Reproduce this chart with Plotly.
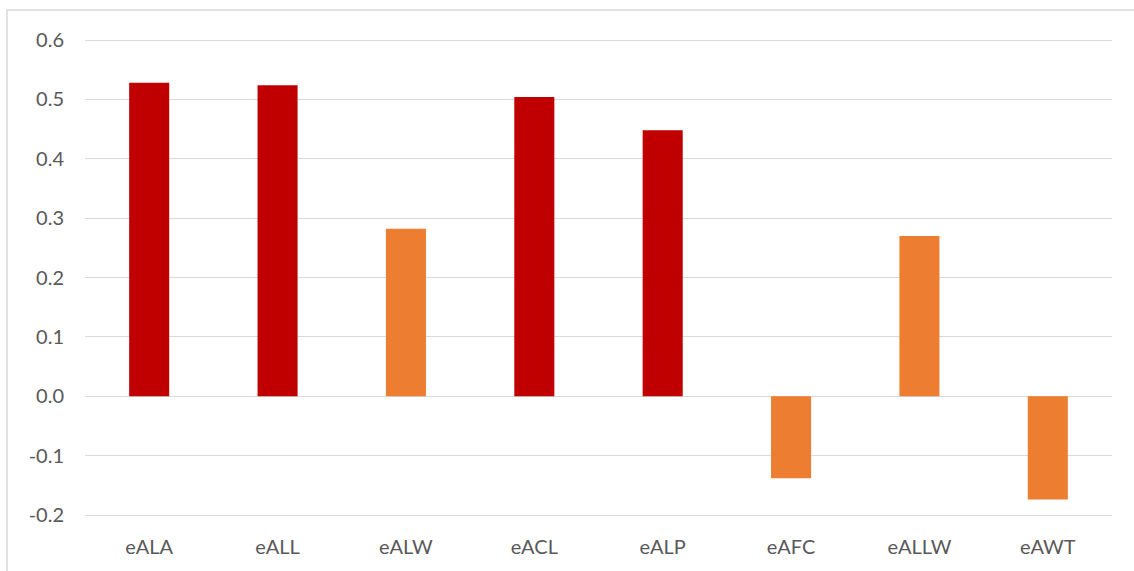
import plotly.graph_objects as go

# Indicator correlations
categories = ["eALA", "eALL", "eALW", "eACL", "eALP", "eAFC", "eALLW", "eAWT"]
values = [0.528, 0.524, 0.282, 0.504, 0.448, -0.138, 0.270, -0.174]
bar_colors = ["#C00000", "#C00000", "#ED7D31", "#C00000",
              "#C00000", "#ED7D31", "#ED7D31", "#ED7D31"]

y_tick_values = [-0.2, -0.1, 0.0, 0.1, 0.2, 0.3, 0.4, 0.5, 0.6]
y_tick_labels = ["-0.2", "-0.1", "0.0", "0.1", "0.2", "0.3", "0.4", "0.5", "0.6"]

W, H = 1134, 571
plot_left, plot_right = 85, 1112
plot_top, plot_bottom = 30, 526
px_per_unit = 593.75  # vertical pixels per 1.0 of value

y_top = 0.6 + (40 - plot_top) / px_per_unit
y_bottom = y_top - (plot_bottom - plot_top) / px_per_unit

fig = go.Figure(
    go.Bar(
        x=categories,
        y=values,
        marker=dict(color=bar_colors, line=dict(width=0)),
        hoverinfo="x+y",
    )
)

text_color = "#595959"
grid_color = "#D9D9D9"

fig.update_layout(
    width=W,
    height=H,
    margin=dict(l=plot_left, r=W - plot_right, t=plot_top, b=H - plot_bottom),
    paper_bgcolor="white",
    plot_bgcolor="white",
    bargap=0.688,
    showlegend=False,
    font=dict(family="Lato", color=text_color),
    xaxis=dict(
        showgrid=False,
        showline=False,
        ticks="",
        tickfont=dict(size=20, color=text_color),
        ticklabelstandoff=7,
    ),
    yaxis=dict(
        range=[y_bottom, y_top],
        tickvals=y_tick_values,
        ticktext=y_tick_labels,
        showgrid=True,
        gridcolor=grid_color,
        gridwidth=1,
        zeroline=False,
        showline=False,
        ticks="",
        tickfont=dict(size=20, color=text_color),
        ticklabelstandoff=20,
    ),
    shapes=[
        dict(
            type="rect",
            xref="paper",
            yref="paper",
            x0=(7 - plot_left) / (plot_right - plot_left),
            x1=1.2,
            y0=-0.2,
            y1=1 + (plot_top - 10) / (plot_bottom - plot_top),
            line=dict(color=grid_color, width=1.5),
            fillcolor="rgba(0,0,0,0)",
            layer="below",
        )
    ],
)

fig.write_html("out.html")
